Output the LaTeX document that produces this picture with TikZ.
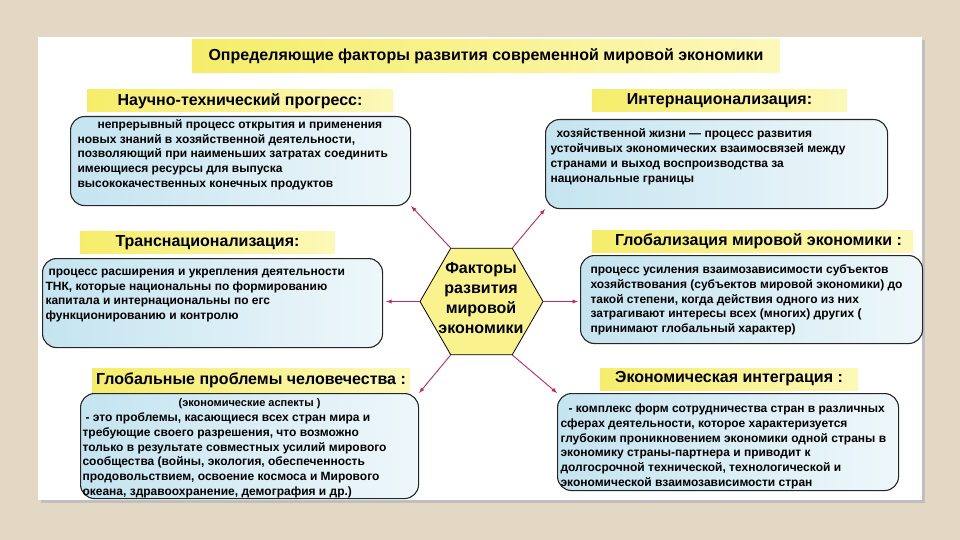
\documentclass[tikz,border=0pt]{standalone}
\usepackage{fontspec}
\setmainfont{Liberation Sans}
\usetikzlibrary{shapes.geometric}

\definecolor{pagebg}{RGB}{226,216,196}
\definecolor{barstrong}{RGB}{245,237,105}
\definecolor{barpale}{RGB}{252,248,185}
\definecolor{boxblue}{RGB}{196,228,240}
\definecolor{boxpale}{RGB}{238,247,250}
\definecolor{hexfill}{RGB}{250,242,140}
\definecolor{arrowred}{RGB}{190,40,100}

% text block of a description box: width, height, text
\newcommand{\desctext}[3]{\parbox[c][#2][t]{#1}{\raggedright #3}}

\begin{document}
\begin{tikzpicture}[x=1pt,y=-1pt]
\tikzstyle{headbar}=[inner sep=0pt, minimum height=22pt, left color=barstrong, right color=barpale, font=\bfseries\fontsize{16}{19}\selectfont]
\tikzstyle{descbox}=[draw=black!85, line width=1.1pt, rounded corners=14pt, left color=boxblue, right color=boxpale, anchor=north west, font=\bfseries\fontsize{12}{14.7}\selectfont]
\tikzstyle{factor}=[draw, regular polygon, regular polygon sides=6, minimum size=123pt, inner sep=0pt, fill=hexfill, line width=0.8pt]
\tikzstyle{link}=[draw=arrowred, line width=0.9pt, -latex]

% page
\fill[pagebg] (0,0) rectangle (960,540);
\fill[black!25] (41,40) rectangle (925,503);
\fill[white] (38,37) rectangle (922,500);

\node[headbar, minimum width=588pt, minimum height=33pt] (title) at (486,56.5) {Определяющие факторы развития современной мировой экономики};

% headers
\node[headbar, minimum width=306pt] (ntphead) at (240,101) {Научно-технический прогресс:};
\node[headbar, minimum width=255pt] (inthead) at (719.5,101) {Интернационализация:};
\node[headbar, minimum width=255pt] (tnchead) at (207.5,242.5) {Транснационализация:};
\node[headbar, minimum width=321pt] (globhead) at (752.5,241) {\hspace*{12pt}Глобализация мировой экономики :};
\node[headbar, minimum width=318pt, minimum height=24pt] (probhead) at (251,380) {Глобальные проблемы человечества :};
\node[headbar, minimum width=258pt] (integhead) at (729,379) {Экономическая интеграция :};

% descriptions
\node[descbox, inner xsep=7pt, inner ysep=3pt] (ntpbox) at (70,116) {\desctext{326pt}{83pt}{%
\hspace*{20pt}непрерывный процесс открытия и применения\\
новых знаний в хозяйственной деятельности,\\
позволяющий при наименьших затратах соединить\\
имеющиеся ресурсы для выпуска\\
высококачественных конечных продуктов}};
\node[descbox, inner xsep=5pt, inner ysep=9.5pt] (intbox) at (545,119) {\desctext{332pt}{70pt}{%
\hspace*{6pt}хозяйственной жизни — процесс развития\\
устойчивых экономических взаимосвязей между\\
странами и выход воспроизводства за\\
национальные границы}};
\node[descbox, inner xsep=3pt, inner ysep=10.5pt] (tncbox) at (42,258) {\desctext{334pt}{68pt}{%
\hspace*{3pt}процесс расширения и укрепления деятельности\\
ТНК, которые национальны по формированию\\
капитала и интернациональны по егс\\
функционированию и контролю}};
\node[descbox, inner xsep=10pt, inner ysep=9.5pt] (globbox) at (580,255) {\desctext{322pt}{69pt}{%
процесс усиления взаимозависимости субъектов\\
хозяйствования (субъектов мировой экономики) до\\
такой степени, когда действия одного из них\\
затрагивают интересы всех (многих) других (\\
принимают глобальный характер)}};
\node[descbox, inner xsep=2pt, inner ysep=4.5pt] (probbox) at (80,393) {\desctext{334pt}{96pt}{%
\makebox[334pt]{\fontsize{11}{12}\selectfont(экономические аспекты )}\\[1pt]
\hspace*{3pt}- это проблемы, касающиеся всех стран мира и\\
требующие своего разрешения, что возможно\\
только в результате совместных усилий мирового\\
сообщества (войны, экология, обеспеченность\\
продовольствием, освоение космоса и Мирового\\
океана, здравоохранение, демография и др.)}};
\node[descbox, inner xsep=3pt, inner ysep=10.5pt] (integbox) at (557,393) {\desctext{335pt}{76pt}{%
\hspace*{8pt}- комплекс форм сотрудничества стран в различных\\
сферах деятельности, которое характеризуется\\
глубоким проникновением экономики одной страны в\\
экономику страны-партнера и приводит к\\
долгосрочной технической, технологической и\\
экономической взаимозависимости стран}};

% centre
\node[factor] (core) at (481.5,301.5) {};
\node[font=\bfseries\fontsize{16}{20}\selectfont, align=center] (coretext) at (481,298) {Факторы\\развития\\мировой\\экономики};

\draw[link] (core.120) -- (ntpbox.south east);
\draw[link] (core.60) -- (intbox.south west);
\draw[link, shorten >=3pt] (core.180) -- (core.180 -| tncbox.east);
\draw[link, shorten >=2pt] (core.0) -- (core.0 -| globbox.west);
\draw[link] (core.240) -- (probbox.north east);
\draw[link] (core.300) -- (integbox.north west);
\end{tikzpicture}
\end{document}
